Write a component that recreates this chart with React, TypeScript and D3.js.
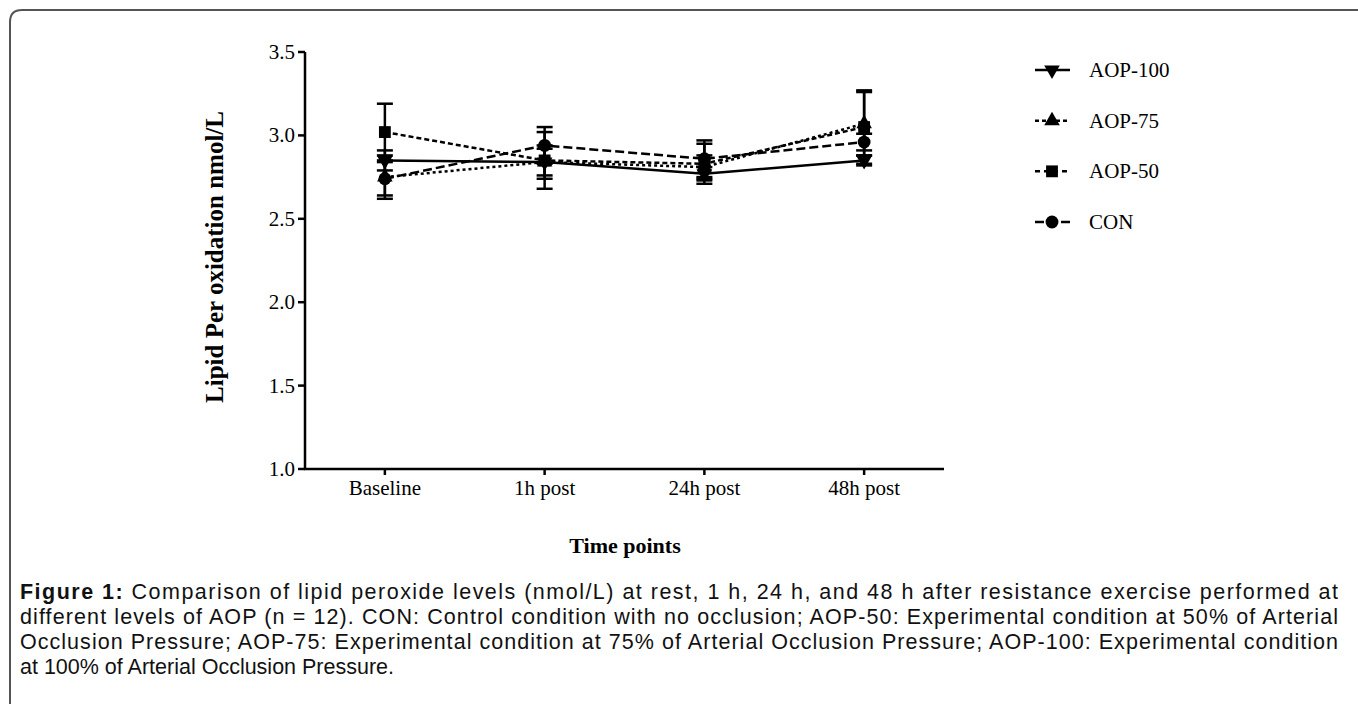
import React from 'react';
import * as d3 from 'd3';

const categories = ['Baseline', '1h post', '24h post', '48h post'];
const seriesNames = ['AOP-100', 'AOP-75', 'AOP-50', 'CON'];
const aop100 = [2.85, 2.84, 2.77, 2.85];
const aop100Se = [0.06, 0.1, 0.04, 0.03];
const aop75 = [2.75, 2.84, 2.81, 3.07];
const aop75Se = [0.13, 0.08, 0.07, 0.19];
const aop50 = [3.02, 2.85, 2.83, 3.05];
const aop50Se = [0.17, 0.17, 0.12, 0.22];
const con = [2.74, 2.94, 2.86, 2.96];
const conSe = [0.1, 0.11, 0.11, 0.05];
const yTicks = [1.0, 1.5, 2.0, 2.5, 3.0, 3.5];

const captionLines = [
  'Comparison of lipid peroxide levels (nmol/L) at rest, 1 h, 24 h, and 48 h after resistance exercise performed at',
  'different levels of AOP (n = 12). CON: Control condition with no occlusion; AOP-50: Experimental condition at 50% of Arterial',
  'Occlusion Pressure; AOP-75: Experimental condition at 75% of Arterial Occlusion Pressure; AOP-100: Experimental condition',
  'at 100% of Arterial Occlusion Pressure.',
];

const W = 1358;
const H = 704;
const serif = '"Liberation Serif", "Times New Roman", serif';
const sans = '"Liberation Sans", Arial, sans-serif';

type Series = { name: string; values: number[]; se: number[]; dash: string; symbol: d3.SymbolType; rotate: number; legendDash: string };

const series: Series[] = [
  { name: seriesNames[0], values: aop100, se: aop100Se, dash: 'none', symbol: d3.symbolTriangle, rotate: 180, legendDash: 'none' },
  { name: seriesNames[1], values: aop75, se: aop75Se, dash: '3,3', symbol: d3.symbolTriangle, rotate: 0, legendDash: '4,3' },
  { name: seriesNames[2], values: aop50, se: aop50Se, dash: '5,3', symbol: d3.symbolSquare, rotate: 0, legendDash: '5,4' },
  { name: seriesNames[3], values: con, se: conSe, dash: '9,4', symbol: d3.symbolCircle, rotate: 0, legendDash: '9,4' },
];

const symbolSize = (s: d3.SymbolType) => (s === d3.symbolSquare ? 140 : s === d3.symbolCircle ? 130 : 105);

export default function App() {
  const x = d3.scalePoint<string>().domain(categories).range([305, 944]).padding(0.5);
  const y = d3.scaleLinear().domain([1.0, 3.5]).range([469, 52]);
  const line = d3.line<number>().x((_, i) => x(categories[i])!).y(d => y(d));
  const legendY = d3.scalePoint<string>().domain(seriesNames).range([70, 222]);

  return (
    <svg width={W} height={H} style={{ position: 'absolute', left: 0, top: 0 }}>
      <rect width={W} height={H} fill="#fff" />
      <path d="M10,704 V22 Q10,10 22,10 H1358" fill="none" stroke="#555" strokeWidth={2} />

      {/* axes */}
      <line x1={305} x2={305} y1={y(3.5)} y2={y(1.0)} stroke="#000" strokeWidth={2.5} />
      <line x1={304} x2={944} y1={y(1.0)} y2={y(1.0)} stroke="#000" strokeWidth={2.5} />
      {yTicks.map(t => (
        <g key={t}>
          <line x1={298} x2={305} y1={y(t)} y2={y(t)} stroke="#000" strokeWidth={2.5} />
          <text x={295} y={y(t) + 7} textAnchor="end" fontFamily={serif} fontSize={21}>{t.toFixed(1)}</text>
        </g>
      ))}
      {categories.map(c => (
        <g key={c}>
          <line x1={x(c)} x2={x(c)} y1={y(1.0)} y2={y(1.0) + 6} stroke="#000" strokeWidth={2.5} />
          <text x={x(c)} y={495} textAnchor="middle" fontFamily={serif} fontSize={21}>{c}</text>
        </g>
      ))}
      <text transform="translate(223,257) rotate(-90)" textAnchor="middle" fontFamily={serif} fontSize={25} fontWeight="bold">Lipid Per oxidation nmol/L</text>
      <text x={625} y={553} textAnchor="middle" fontFamily={serif} fontSize={22} fontWeight="bold">Time points</text>

      {/* lines */}
      {series.map(s => (
        <path key={s.name} d={line(s.values)!} fill="none" stroke="#000" strokeWidth={2.5} strokeDasharray={s.dash} />
      ))}
      {/* error bars */}
      {series.map(s => s.values.map((v, i) => {
        const cx = x(categories[i])!;
        return (
          <g key={s.name + i} stroke="#000" strokeWidth={2.5}>
            <line x1={cx} x2={cx} y1={y(v - s.se[i])} y2={y(v + s.se[i])} />
            <line x1={cx - 8} x2={cx + 8} y1={y(v + s.se[i])} y2={y(v + s.se[i])} />
            <line x1={cx - 8} x2={cx + 8} y1={y(v - s.se[i])} y2={y(v - s.se[i])} />
          </g>
        );
      }))}
      {/* markers */}
      {series.map(s => s.values.map((v, i) => (
        <path key={s.name + 'm' + i} d={d3.symbol().type(s.symbol).size(symbolSize(s.symbol))()!}
          transform={`translate(${x(categories[i])},${y(v)}) rotate(${s.rotate})`} fill="#000" />
      )))}

      {/* legend */}
      {series.map(s => {
        const ly = legendY(s.name)!;
        return (
          <g key={s.name + 'lg'}>
            <line x1={1035} x2={1070} y1={ly} y2={ly} stroke="#000" strokeWidth={2.5} strokeDasharray={s.legendDash} />
            <path d={d3.symbol().type(s.symbol).size(symbolSize(s.symbol))()!} transform={`translate(1052,${ly}) rotate(${s.rotate})`} fill="#000" />
            <text x={1089} y={ly + 7} fontFamily={serif} fontSize={21}>{s.name}</text>
          </g>
        );
      })}

      {/* caption */}
      {captionLines.map((l, i) => (
        <text key={i} x={20} y={599 + i * 25} fontFamily={sans} fontSize={21.5} fill="#111"
          textLength={i < 3 ? 1318 : undefined} lengthAdjust="spacing">
          {i === 0 ? <tspan fontWeight="bold">Figure 1: </tspan> : null}
          {l}
        </text>
      ))}
    </svg>
  );
}
